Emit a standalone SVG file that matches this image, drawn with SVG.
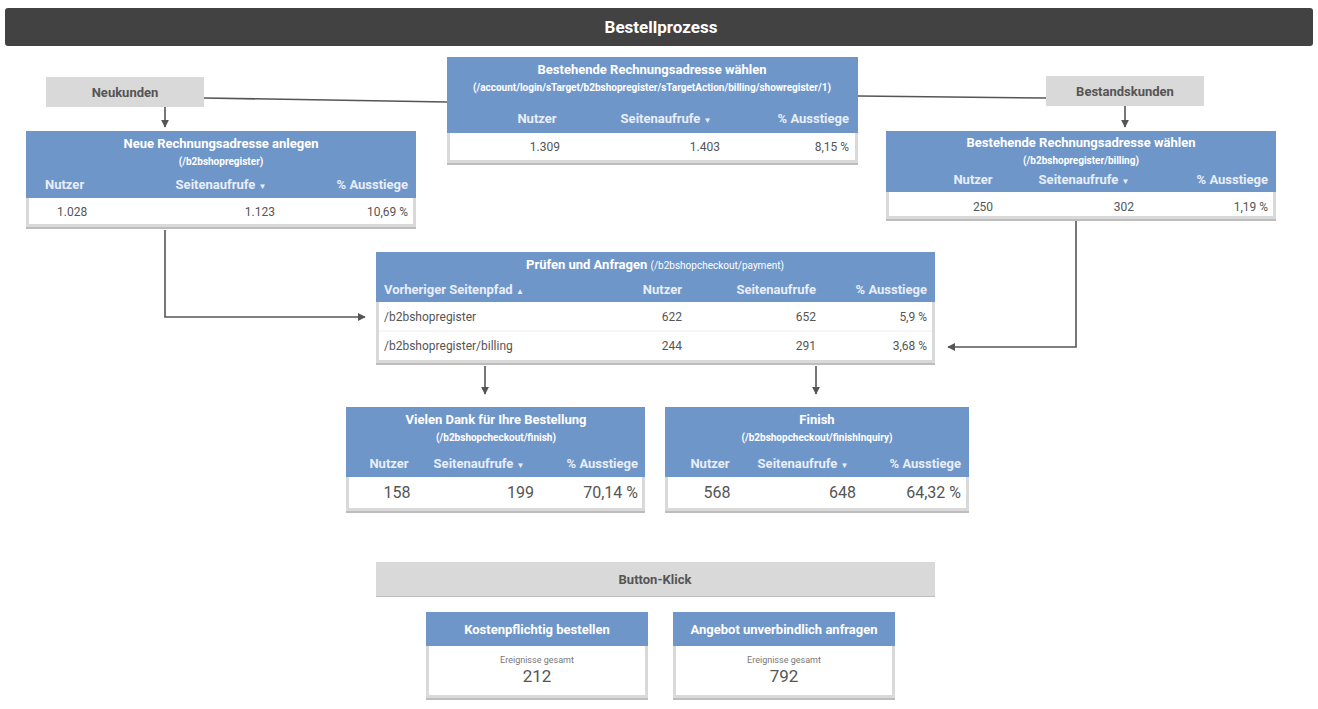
<svg xmlns="http://www.w3.org/2000/svg" width="1318" height="709" viewBox="0 0 1318 709">
<style>
text{font-family:Roboto,"Liberation Sans",sans-serif}
.bd{fill:#fff;stroke:#d9d9d9;stroke-width:3}
.sh{fill:#bdbdbd}
.hd{fill:#6f96c9}
.t{fill:#fff;font-weight:bold;font-size:13px;text-anchor:middle}
.s{fill:#fff;font-size:10px;font-weight:bold;text-anchor:middle}
.c{fill:#e8eef7;font-weight:bold;font-size:13px}
.v{fill:#555;font-size:12px}
.V{fill:#555;font-size:16px}
.m{text-anchor:middle}.e{text-anchor:end}
.lb{fill:#d9d9d9}
.lt{fill:#555;font-weight:bold;font-size:13px;text-anchor:middle}
.ln{stroke:#555;stroke-width:1.6;fill:none}
</style>
<defs><marker id="a" viewBox="0 0 10 10" refX="9" refY="5" markerWidth="5" markerHeight="5" orient="auto"><path d="M0,0L10,5L0,10z" fill="#555"/></marker></defs>
<rect width="1318" height="709" fill="#fff"/>
<g id="title"><rect x="5" y="8" width="1308" height="38" rx="3" fill="#424242"/><text x="661" y="33" fill="#fff" font-size="17" font-weight="bold" text-anchor="middle">Bestellprozess</text></g>
<g id="connectors">
<path class="ln" d="M204,98L447,102"/>
<path class="ln" d="M858,96L1046,98"/>
<path class="ln" d="M165,107V127" marker-end="url(#a)"/>
<path class="ln" d="M1125,106V127" marker-end="url(#a)"/>
<path class="ln" d="M165,230V317H365" marker-end="url(#a)"/>
<path class="ln" d="M1076,221V347H948" marker-end="url(#a)"/>
<path class="ln" d="M485,366V394" marker-end="url(#a)"/>
<path class="ln" d="M816,366V394" marker-end="url(#a)"/>
</g>
<g id="neukunden"><rect class="lb" x="46" y="77" width="158" height="30"/><text class="lt" x="125" y="97">Neukunden</text></g>
<g id="bestandskunden"><rect class="lb" x="1046" y="76" width="158" height="30"/><text class="lt" x="1125" y="96">Bestandskunden</text></g>
<g id="card-top">
<rect class="sh" x="447" y="162" width="411" height="3"/>
<rect class="bd" x="448.5" y="58.5" width="408" height="103"/>
<rect class="hd" x="447" y="57" width="411" height="76"/>
<text class="t" x="652" y="74">Bestehende Rechnungsadresse wählen</text>
<text class="s" x="652" y="91">(/account/login/sTarget/b2bshopregister/sTargetAction/billing/showregister/1)</text>
<text class="c m" x="537" y="123">Nutzer</text><text class="c m" x="666" y="123">Seitenaufrufe <tspan font-size="8">▼</tspan></text><text class="c e" x="849" y="123">% Ausstiege</text>
<text class="v e" x="560" y="151">1.309</text><text class="v e" x="720" y="151">1.403</text><text class="v e" x="849" y="151">8,15 %</text>
</g>
<g id="card-left">
<rect class="sh" x="26" y="226" width="390" height="3"/>
<rect class="bd" x="27.5" y="132.5" width="387" height="93"/>
<rect class="hd" x="26" y="131" width="390" height="67"/>
<text class="t" x="221" y="148">Neue Rechnungsadresse anlegen</text>
<text class="s" x="221" y="165">(/b2bshopregister)</text>
<text class="c" x="45" y="189">Nutzer</text><text class="c m" x="221" y="189">Seitenaufrufe <tspan font-size="8">▼</tspan></text><text class="c e" x="408" y="189">% Ausstiege</text>
<text class="v" x="57" y="216">1.028</text><text class="v e" x="275" y="216">1.123</text><text class="v e" x="408" y="216">10,69 %</text>
</g>
<g id="card-right">
<rect class="sh" x="886" y="218" width="390" height="3"/>
<rect class="bd" x="887.5" y="132.5" width="387" height="85"/>
<rect class="hd" x="886" y="131" width="390" height="61"/>
<text class="t" x="1081" y="147">Bestehende Rechnungsadresse wählen</text>
<text class="s" x="1081" y="164">(/b2bshopregister/billing)</text>
<text class="c m" x="973" y="184">Nutzer</text><text class="c m" x="1084" y="184">Seitenaufrufe <tspan font-size="8">▼</tspan></text><text class="c e" x="1268" y="184">% Ausstiege</text>
<text class="v m" x="983" y="211">250</text><text class="v e" x="1134" y="211">302</text><text class="v e" x="1268" y="211">1,19 %</text>
</g>
<g id="card-pruefen">
<rect class="sh" x="376" y="362" width="559" height="3"/>
<rect class="bd" x="377.5" y="253.5" width="556" height="108"/>
<rect class="hd" x="376" y="252" width="559" height="50"/>
<text class="t" x="655" y="269">Prüfen und Anfragen <tspan font-size="10" font-weight="normal">(/b2bshopcheckout/payment)</tspan></text>
<text class="c" x="384" y="294">Vorheriger Seitenpfad <tspan font-size="8">▲</tspan></text><text class="c e" x="682" y="294">Nutzer</text><text class="c e" x="816" y="294">Seitenaufrufe</text><text class="c e" x="927" y="294">% Ausstiege</text>
<line x1="379" y1="331" x2="932" y2="331" stroke="#eee"/>
<text class="v" x="384" y="321">/b2bshopregister</text><text class="v e" x="682" y="321">622</text><text class="v e" x="816" y="321">652</text><text class="v e" x="927" y="321">5,9 %</text>
<text class="v" x="384" y="350">/b2bshopregister/billing</text><text class="v e" x="682" y="350">244</text><text class="v e" x="816" y="350">291</text><text class="v e" x="927" y="350">3,68 %</text>
</g>
<g id="card-danke">
<rect class="sh" x="346" y="510" width="299" height="3"/>
<rect class="bd" x="347.5" y="408.5" width="296" height="101"/>
<rect class="hd" x="346" y="407" width="299" height="70"/>
<text class="t" x="496" y="424">Vielen Dank für Ihre Bestellung</text>
<text class="s" x="496" y="441">(/b2bshopcheckout/finish)</text>
<text class="c m" x="389" y="468">Nutzer</text><text class="c m" x="479" y="468">Seitenaufrufe <tspan font-size="8">▼</tspan></text><text class="c e" x="638" y="468">% Ausstiege</text>
<text class="V m" x="397" y="498">158</text><text class="V e" x="534" y="498">199</text><text class="V e" x="638" y="498">70,14 %</text>
</g>
<g id="card-finish">
<rect class="sh" x="665" y="510" width="304" height="3"/>
<rect class="bd" x="666.5" y="408.5" width="301" height="101"/>
<rect class="hd" x="665" y="407" width="304" height="70"/>
<text class="t" x="817" y="424">Finish</text>
<text class="s" x="817" y="441">(/b2bshopcheckout/finishInquiry)</text>
<text class="c m" x="710" y="468">Nutzer</text><text class="c m" x="803" y="468">Seitenaufrufe <tspan font-size="8">▼</tspan></text><text class="c e" x="961" y="468">% Ausstiege</text>
<text class="V m" x="717" y="498">568</text><text class="V e" x="856" y="498">648</text><text class="V e" x="961" y="498">64,32 %</text>
</g>
<g id="button-klick"><rect class="sh" x="376" y="595" width="559" height="2"/><rect class="lb" x="376" y="562" width="559" height="34"/><text class="lt" x="655" y="584">Button-Klick</text></g>
<g id="card-kosten">
<rect class="sh" x="426" y="697" width="222" height="3"/>
<rect class="bd" x="427.5" y="613.5" width="219" height="83"/>
<rect class="hd" x="426" y="612" width="222" height="34"/>
<text class="t" x="537" y="634">Kostenpflichtig bestellen</text>
<text x="537" y="663" fill="#777" font-size="9" text-anchor="middle">Ereignisse gesamt</text>
<text x="537" y="682" fill="#555" font-size="17" text-anchor="middle">212</text>
</g>
<g id="card-angebot">
<rect class="sh" x="673" y="697" width="222" height="3"/>
<rect class="bd" x="674.5" y="613.5" width="219" height="83"/>
<rect class="hd" x="673" y="612" width="222" height="34"/>
<text class="t" x="784" y="634">Angebot unverbindlich anfragen</text>
<text x="784" y="663" fill="#777" font-size="9" text-anchor="middle">Ereignisse gesamt</text>
<text x="784" y="682" fill="#555" font-size="17" text-anchor="middle">792</text>
</g>
</svg>
